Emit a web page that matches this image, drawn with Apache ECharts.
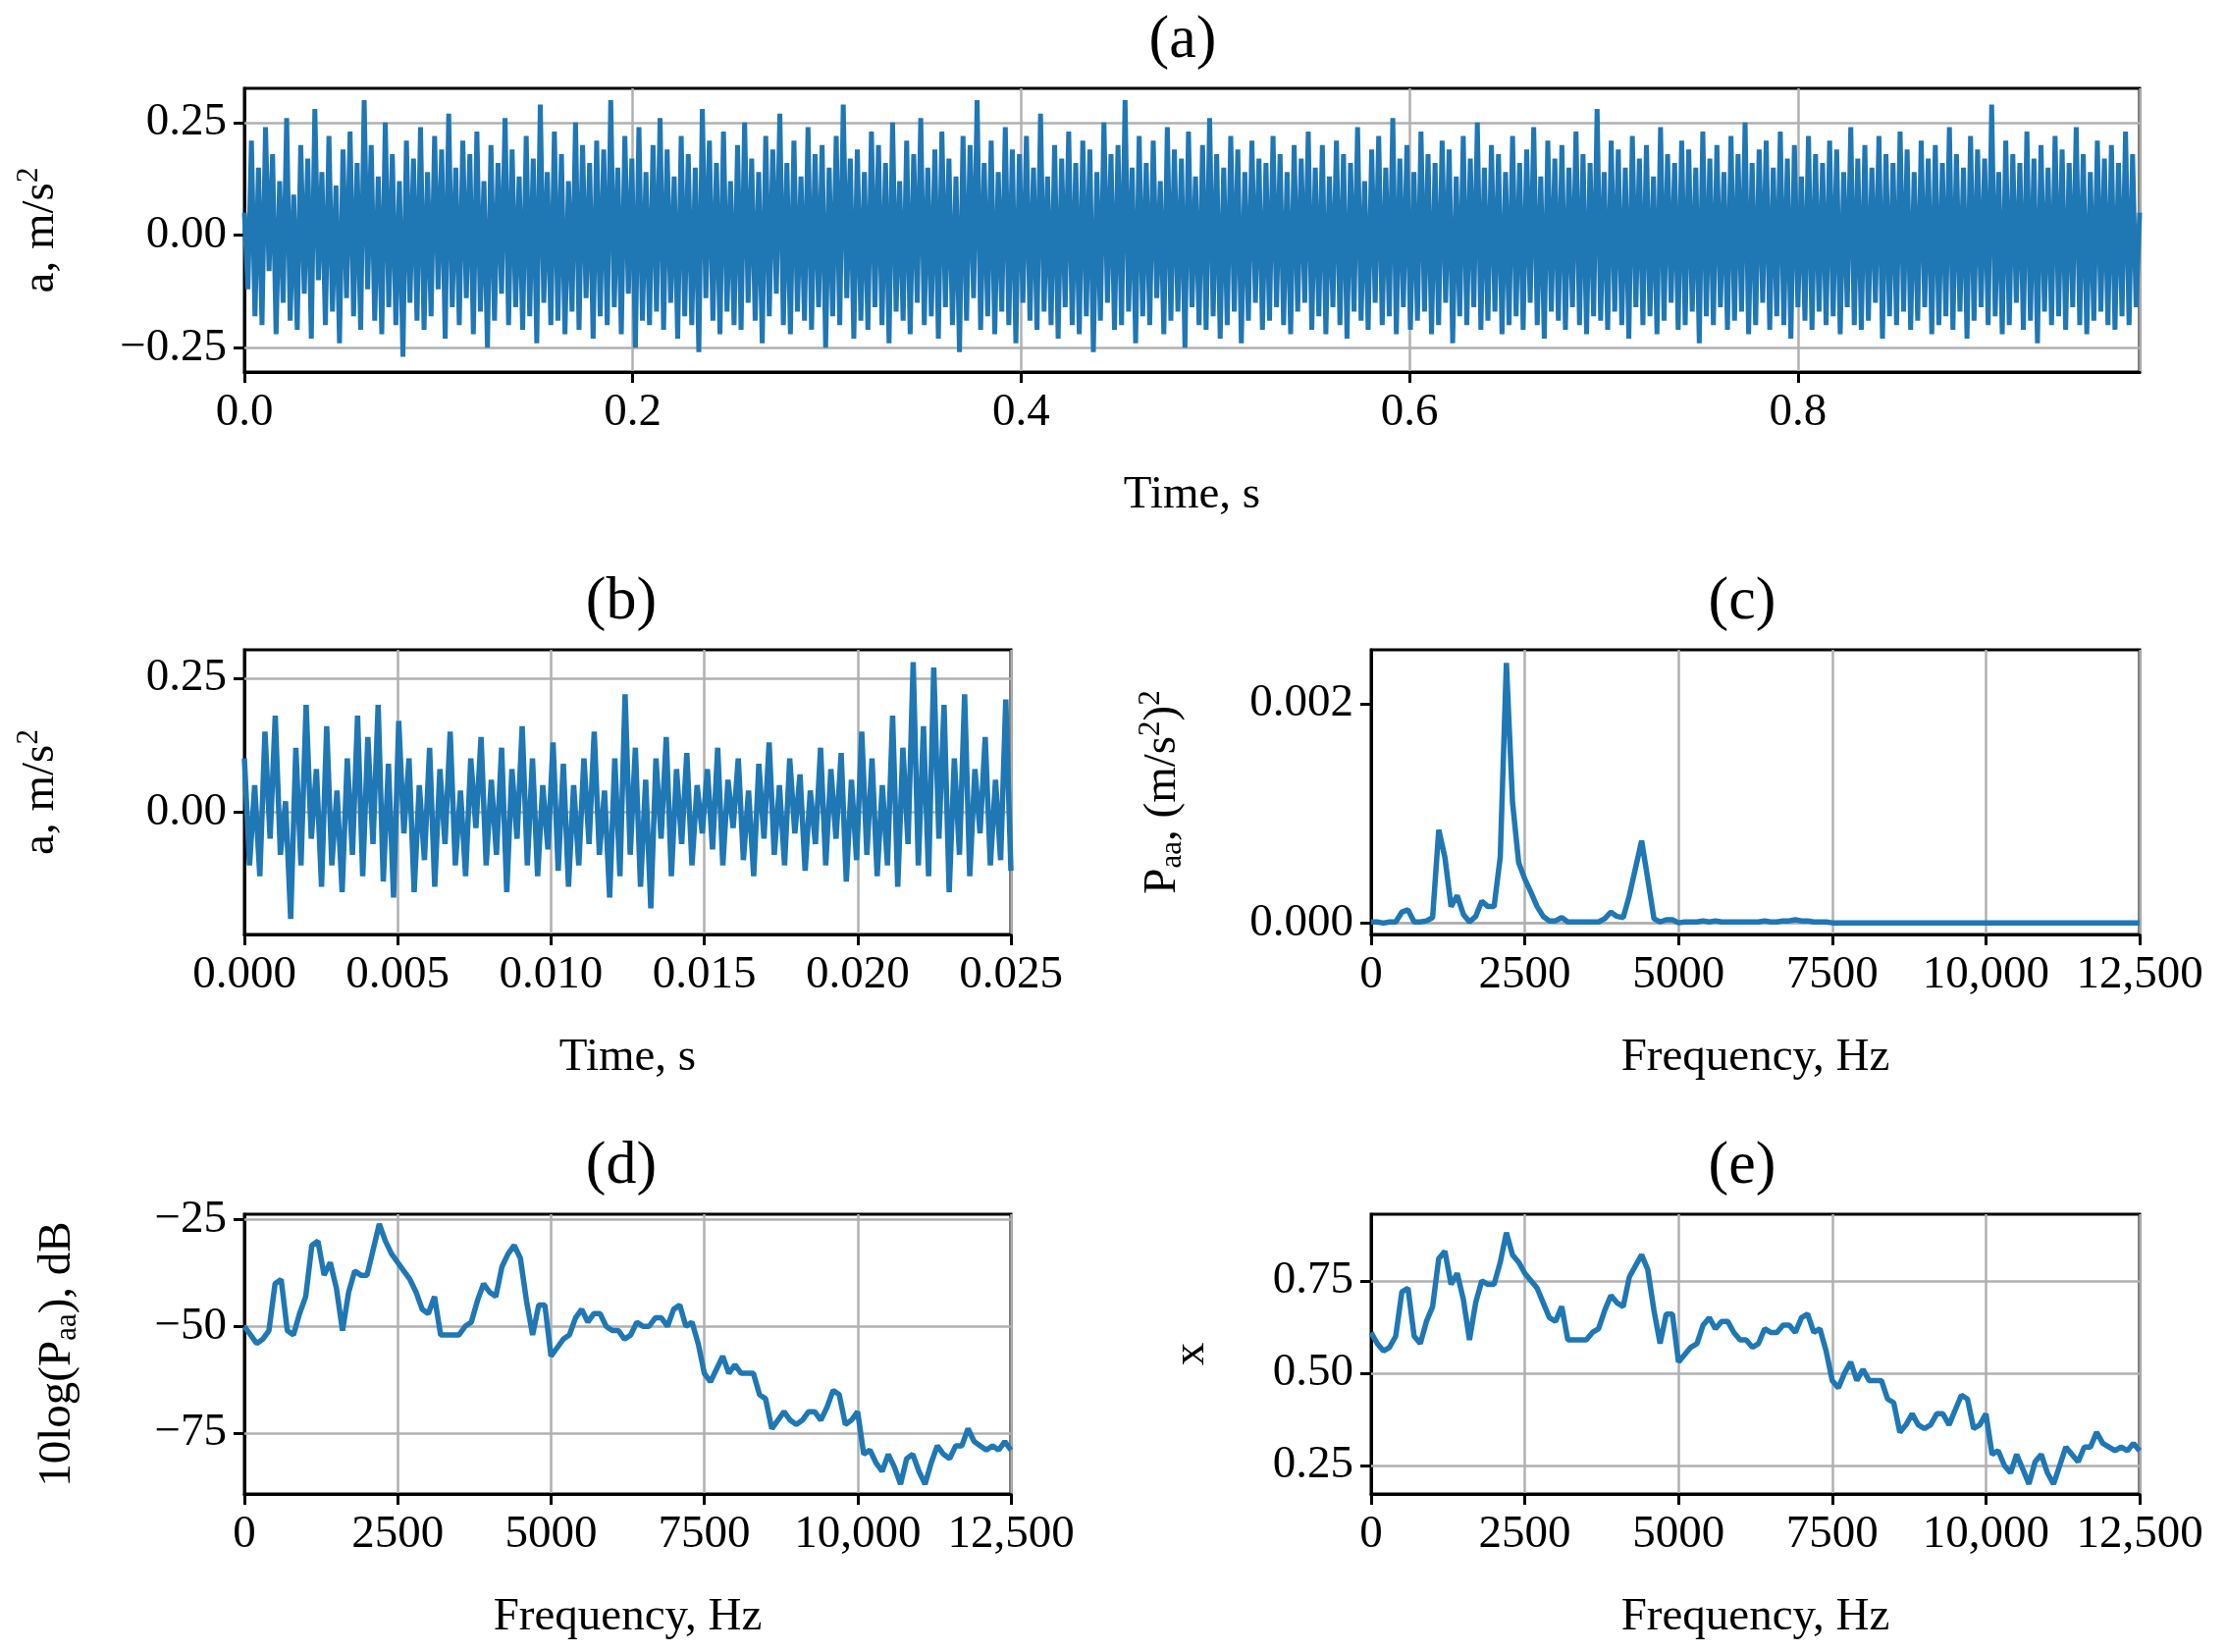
<!DOCTYPE html>
<html>
<head>
<meta charset="utf-8">
<script src="https://cdn.jsdelivr.net/npm/echarts@6/dist/echarts.min.js"></script>
<style>
  html, body { margin: 0; padding: 0; background: #fff; }
  #main { width: 2268px; height: 1683px; }
</style>
</head>
<body>
<div id="main"></div>
<script>
// (a) full record, a in m/s^2
var sigA = [0.05,-0.12,0.21,-0.18,0.15,-0.2,0.24,-0.08,0.18,-0.22,0.12,-0.15,0.26,-0.19,0.09,-0.21,0.2,-0.13,0.17,-0.23,0.28,-0.1,0.14,-0.2,0.22,-0.17,0.11,-0.24,0.19,-0.14,
  0.23,-0.18,0.16,-0.21,0.3,-0.12,0.2,-0.19,0.13,-0.22,0.25,-0.16,0.18,-0.2,0.12,-0.27,0.21,-0.15,0.17,-0.19,0.24,-0.21,0.14,-0.18,0.22,-0.12,0.19,-0.23,0.27,-0.16,
  0.15,-0.2,0.21,-0.14,0.18,-0.22,0.23,-0.17,0.12,-0.25,0.2,-0.19,0.16,-0.13,0.26,-0.2,0.19,-0.16,0.13,-0.21,0.22,-0.18,0.17,-0.24,0.29,-0.15,0.14,-0.2,0.23,-0.19,
  0.18,-0.22,0.12,-0.17,0.25,-0.21,0.2,-0.14,0.16,-0.23,0.21,-0.18,0.19,-0.2,0.3,-0.16,0.15,-0.22,0.22,-0.13,0.17,-0.25,0.24,-0.19,0.14,-0.2,0.2,-0.17,0.26,-0.21,
  0.19,-0.15,0.13,-0.23,0.22,-0.18,0.18,-0.2,0.15,-0.26,0.28,-0.14,0.21,-0.19,0.16,-0.22,0.23,-0.17,0.12,-0.2,0.2,-0.21,0.25,-0.15,0.17,-0.19,0.14,-0.24,0.22,-0.18,
  0.19,-0.13,0.27,-0.2,0.16,-0.22,0.21,-0.17,0.13,-0.19,0.24,-0.21,0.18,-0.16,0.2,-0.25,0.15,-0.18,0.22,-0.2,0.29,-0.14,0.17,-0.23,0.19,-0.19,0.14,-0.21,0.23,-0.16,
  0.2,-0.2,0.16,-0.24,0.25,-0.17,0.12,-0.19,0.21,-0.22,0.18,-0.15,0.26,-0.2,0.15,-0.18,0.19,-0.23,0.23,-0.16,0.17,-0.2,0.13,-0.26,0.22,-0.19,0.2,-0.14,0.3,-0.21,
  0.16,-0.18,0.21,-0.22,0.14,-0.17,0.24,-0.2,0.19,-0.24,0.18,-0.15,0.22,-0.19,0.15,-0.21,0.27,-0.17,0.13,-0.2,0.2,-0.23,0.17,-0.16,0.23,-0.2,0.16,-0.22,0.21,-0.18,
  0.19,-0.26,0.14,-0.19,0.25,-0.15,0.18,-0.21,0.2,-0.2,0.3,-0.17,0.15,-0.24,0.22,-0.18,0.16,-0.2,0.21,-0.14,0.12,-0.22,0.24,-0.19,0.19,-0.17,0.17,-0.25,0.23,-0.16,
  0.13,-0.2,0.2,-0.21,0.26,-0.18,0.18,-0.23,0.15,-0.2,0.22,-0.17,0.19,-0.24,0.14,-0.19,0.21,-0.15,0.17,-0.21,0.16,-0.19,0.22,-0.16,0.18,-0.2,0.14,-0.22,0.2,-0.17,
  0.17,-0.15,0.23,-0.21,0.15,-0.18,0.2,-0.22,0.13,-0.16,0.21,-0.2,0.18,-0.23,0.16,-0.17,0.24,-0.19,0.12,-0.21,0.19,-0.15,0.22,-0.2,0.15,-0.18,0.26,-0.22,0.17,-0.16,
  0.2,-0.21,0.14,-0.19,0.23,-0.17,0.18,-0.22,0.16,-0.2,0.21,-0.15,0.19,-0.24,0.13,-0.18,0.22,-0.2,0.17,-0.16,0.25,-0.21,0.15,-0.19,0.2,-0.17,0.18,-0.22,0.14,-0.2,
  0.22,-0.18,0.16,-0.21,0.19,-0.15,0.24,-0.2,0.13,-0.23,0.21,-0.17,0.17,-0.19,0.2,-0.21,0.15,-0.16,0.23,-0.2,0.18,-0.22,0.16,-0.18,0.28,-0.19,0.14,-0.21,0.21,-0.17,
  0.19,-0.2,0.15,-0.23,0.22,-0.16,0.17,-0.2,0.2,-0.18,0.13,-0.22,0.24,-0.19,0.18,-0.15,0.16,-0.21,0.21,-0.2,0.19,-0.17,0.15,-0.24,0.23,-0.18,0.17,-0.2,0.2,-0.16,
  0.14,-0.21,0.22,-0.19,0.18,-0.17,0.25,-0.22,0.16,-0.2,0.19,-0.15,0.21,-0.21,0.15,-0.18,0.23,-0.2,0.17,-0.23,0.2,-0.16,0.13,-0.19,0.22,-0.21,0.18,-0.17,0.16,-0.2,
  0.21,-0.18,0.19,-0.22,0.14,-0.16,0.24,-0.2,0.17,-0.21,0.2,-0.19,0.15,-0.15,0.22,-0.23,0.18,-0.18,0.16,-0.2,0.23,-0.17,0.19,-0.21,0.14,-0.19,0.21,-0.16,0.17,-0.22,
  0.2,-0.2,0.16,-0.18,0.24,-0.21,0.18,-0.17,0.15,-0.23,0.22,-0.19,0.19,-0.16,0.17,-0.2,0.29,-0.18,0.14,-0.22,0.21,-0.2,0.18,-0.15,0.16,-0.21,0.23,-0.19,0.17,-0.24,
  0.2,-0.17,0.15,-0.2,0.22,-0.18,0.19,-0.21,0.16,-0.16,0.24,-0.2,0.18,-0.22,0.14,-0.19,0.21,-0.17,0.17,-0.2,0.2,-0.21,0.16,-0.18,0.23,-0.2,0.18,-0.16,0.05];
// (b) first 0.025 s
var sigB = [0.1,-0.1,0.05,-0.12,0.15,-0.05,0.18,-0.08,0.02,-0.2,0.12,-0.1,0.2,-0.05,0.08,-0.14,0.16,-0.1,0.04,-0.15,0.1,-0.08,0.18,-0.12,0.14,-0.06,0.2,-0.13,0.09,-0.16,
  0.17,-0.04,0.1,-0.15,0.05,-0.09,0.12,-0.14,0.08,-0.06,0.15,-0.1,0.04,-0.12,0.1,-0.03,0.14,-0.1,0.06,-0.08,0.12,-0.15,0.08,-0.05,0.16,-0.1,0.1,-0.12,0.05,-0.07,
  0.13,-0.11,0.09,-0.14,0.05,-0.1,0.1,-0.06,0.15,-0.08,0.04,-0.16,0.1,-0.12,0.22,-0.08,0.12,-0.14,0.06,-0.18,0.1,-0.05,0.14,-0.12,0.08,-0.06,0.11,-0.1,0.05,-0.04,
  0.08,-0.07,0.12,-0.1,0.06,-0.03,0.1,-0.09,0.04,-0.12,0.09,-0.05,0.13,-0.08,0.05,-0.1,0.1,-0.04,0.07,-0.11,0.04,-0.06,0.12,-0.1,0.08,-0.05,0.11,-0.13,0.06,-0.09,
  0.15,-0.08,0.1,-0.12,0.05,-0.1,0.18,-0.14,0.12,-0.06,0.28,-0.1,0.16,-0.12,0.27,-0.05,0.2,-0.15,0.1,-0.08,0.22,-0.12,0.08,-0.04,0.14,-0.1,0.06,-0.09,0.21,-0.11];
// (c) PSD, (m/s^2)^2, 100 Hz steps from 0 Hz
var psdC = [0.00001,0.00001,0,0.00001,0.00001,0.0001,0.00012,0.00001,0.00001,0.00002,
  0.00005,0.00085,0.0006,0.00015,0.00025,0.00008,0.00001,0.00006,0.0002,0.00015,
  0.00015,0.0006,0.00237,0.0011,0.00055,0.0004,0.00028,0.00015,0.00006,0.00002,
  0.00002,0.00005,0.00001,0.00001,0.00001,0.00001,0.00001,0.00001,0.00004,0.0001,
  0.00006,0.00005,0.00025,0.0005,0.00075,0.0004,0.00004,0.00001,0.00003,0.00003,
  0.000002,0.00001,0.00001,0.00001,0.00002,0.00001,0.00002,0.00001,0.00001,0.00001,
  0.00001,0.00001,0.00001,0.00001,0.00002,0.00001,0.00001,0.00002,0.00002,0.00003,
  0.00002,0.00002,0.00001,0.00001,0.00001,0.000002,0.000002,0.000002,0.000002,0.000002,
  0,0,0,0,0,0,0,0,0,0,0,0,0,0,0,0,0,0,0,0,0,0,0,0,0,0,0,0,0,0,0,0,0,0,0,0,0,0,0,0,0,0,0,0,0,0];
// (d) 10log(Paa), dB
var psdD = [-50,-52,-54,-53,-51,-40,-39,-51,-52,-47,
  -43,-31,-30,-38,-35,-41,-51,-42,-37,-38,
  -38,-32,-26,-30,-33,-35,-37,-39,-42,-46,
  -47,-43,-52,-52,-52,-52,-50,-49,-44,-40,
  -42,-43,-36,-33,-31,-34,-44,-52,-45,-45,
  -57,-55,-53,-52,-48,-46,-49,-47,-47,-50,
  -51,-51,-53,-52,-49,-50,-50,-48,-48,-50,
  -46,-45,-50,-49,-54,-61,-63,-60,-57,-61,
  -59,-61,-61,-61,-66,-67,-74,-72,-70,-72,
  -73,-72,-70,-70,-72,-69,-65,-66,-73,-72,
  -70,-80,-79,-82,-84,-80,-83,-87,-81,-80,
  -84,-87,-82,-78,-80,-81,-78,-78,-74,-77,
  -78,-79,-78,-79,-77,-79];
// (e) x
var valE = [0.61,0.58,0.56,0.57,0.6,0.72,0.73,0.6,0.58,0.64,
  0.68,0.81,0.83,0.74,0.77,0.7,0.59,0.69,0.75,0.74,
  0.74,0.8,0.88,0.82,0.8,0.77,0.75,0.73,0.69,0.65,
  0.64,0.68,0.59,0.59,0.59,0.59,0.61,0.62,0.67,0.71,
  0.69,0.68,0.76,0.79,0.82,0.78,0.67,0.58,0.66,0.66,
  0.53,0.55,0.57,0.58,0.63,0.65,0.62,0.64,0.64,0.61,
  0.59,0.59,0.57,0.58,0.62,0.61,0.61,0.63,0.63,0.61,
  0.65,0.66,0.61,0.62,0.56,0.48,0.46,0.5,0.53,0.48,
  0.51,0.48,0.48,0.48,0.43,0.42,0.34,0.36,0.39,0.36,
  0.35,0.36,0.39,0.39,0.36,0.4,0.44,0.43,0.35,0.36,
  0.39,0.28,0.29,0.25,0.23,0.28,0.24,0.2,0.26,0.28,
  0.23,0.2,0.25,0.3,0.28,0.26,0.3,0.3,0.34,0.31,
  0.3,0.29,0.3,0.29,0.31,0.29];

var durA = 0.976, durB = 0.025, dF = 100;

function pairs(arr, step) {
  return arr.map(function (v, i) { return [i * step, v]; });
}

var FONT = 'Liberation Serif';
var BLUE = '#1f77b4';
var FS = 47;
var rich = {
  n: { fontFamily: FONT, fontSize: FS, color: '#000' },
  sup: { fontFamily: FONT, fontSize: 31, color: '#000', verticalAlign: 'top', padding: [0, 0, 24, 0] },
  sub: { fontFamily: FONT, fontSize: 31, color: '#000', padding: [20, 0, 0, 0] }
};

var grids = [
  { left: 249, top: 90, width: 1931, height: 289 },
  { left: 249, top: 662, width: 781, height: 290 },
  { left: 1397, top: 662, width: 783, height: 290 },
  { left: 249, top: 1237, width: 781, height: 285 },
  { left: 1397, top: 1237, width: 783, height: 285 }
];
grids.forEach(function (g) { g.show = true; g.borderColor = '#000'; g.borderWidth = 3; g.backgroundColor = 'transparent'; });

function freqFmt(v) { return v >= 10000 ? v.toLocaleString('en-US') : String(v); }

function xAxis(idx, min, max, interval, fmt, name) {
  return {
    type: 'value', gridIndex: idx, min: min, max: max, interval: interval,
    name: name, nameLocation: 'middle', nameGap: 102,
    nameTextStyle: { fontFamily: FONT, fontSize: FS, color: '#000' },
    axisLine: { show: true, onZero: false, lineStyle: { color: '#000', width: 3 } },
    axisTick: { show: true, length: 11, lineStyle: { color: '#000', width: 3 } },
    axisLabel: { show: true, showMaxLabel: max % interval < 1e-9 || Math.abs(max % interval - interval) < 1e-9, margin: 18, fontFamily: FONT, fontSize: FS, color: '#000', formatter: fmt },
    splitLine: { show: true, lineStyle: { color: '#b0b0b0', width: 2.5 } }
  };
}
function yAxis(idx, min, max, ticks, fmt, name, gap) {
  return {
    type: 'value', gridIndex: idx, min: min, max: max,
    name: name, nameLocation: 'middle', nameGap: gap, nameRotate: 90,
    nameTextStyle: { rich: rich },
    axisLine: { show: true, onZero: false, lineStyle: { color: '#000', width: 3 } },
    axisTick: { show: true, length: 11, customValues: ticks, lineStyle: { color: '#000', width: 3 } },
    axisLabel: { show: true, customValues: ticks, margin: 18, fontFamily: FONT, fontSize: FS, color: '#000', formatter: fmt },
    splitLine: { show: false }
  };
}
function gridLines(ticks) {
  return {
    silent: true, symbol: 'none', label: { show: false },
    lineStyle: { color: '#b0b0b0', width: 2.5, type: 'solid' },
    data: ticks.map(function (t) { return { yAxis: t }; })
  };
}
function line(idx, data, ticks, w) {
  return {
    type: 'line', xAxisIndex: idx, yAxisIndex: idx, data: data, showSymbol: false,
    lineStyle: { color: BLUE, width: w }, itemStyle: { color: BLUE }, animation: false,
    markLine: Object.assign(gridLines(ticks), { z: 1 }), z: 3
  };
}

var tA = [-0.25, 0, 0.25], tB = [0, 0.25], tC = [0, 0.002], tD = [-75, -50, -25], tE = [0.25, 0.5, 0.75];
function f2(v) { return v.toFixed(2).replace('-', '\u2212'); }
function f3(v) { return v.toFixed(3); }
function fi(v) { return String(v).replace('-', '\u2212'); }

var titleTxt = { fontFamily: FONT, fontSize: 62, fontWeight: 'normal', color: '#000' };
var option = {
  backgroundColor: '#fff',
  animation: false,
  title: [
    { text: '(a)', left: 1200, top: 6, textAlign: 'center', textStyle: titleTxt },
    { text: '(b)', left: 628, top: 578, textAlign: 'center', textStyle: titleTxt },
    { text: '(c)', left: 1770, top: 578, textAlign: 'center', textStyle: titleTxt },
    { text: '(d)', left: 628, top: 1153, textAlign: 'center', textStyle: titleTxt },
    { text: '(e)', left: 1770, top: 1153, textAlign: 'center', textStyle: titleTxt }
  ],
  grid: grids,
  xAxis: [
    xAxis(0, 0, durA, 0.2, function (v) { return v.toFixed(1); }, 'Time, s'),
    xAxis(1, 0, durB, 0.005, f3, 'Time, s'),
    xAxis(2, 0, 12500, 2500, freqFmt, 'Frequency, Hz'),
    xAxis(3, 0, 12500, 2500, freqFmt, 'Frequency, Hz'),
    xAxis(4, 0, 12500, 2500, freqFmt, 'Frequency, Hz')
  ],
  yAxis: [
    yAxis(0, -0.304, 0.326, tA, f2, '{n|a, m/s}{sup|2}', 180),
    yAxis(1, -0.229, 0.303, tB, f2, '{n|a, m/s}{sup|2}', 180),
    yAxis(2, -0.000104, 0.00249, tC, f3, '{n|P}{sub|aa}{n|, (m/s}{sup|2}{n|)}{sup|2}', 185),
    yAxis(3, -89.3, -23.7, tD, fi, '{n|10log(P}{sub|aa}{n|), dB}', 165),
    yAxis(4, 0.173, 0.93, tE, f2, '{n|x}', 160)
  ],
  series: [
    line(0, pairs(sigA, durA / (sigA.length - 1)), tA, 5),
    line(1, pairs(sigB, durB / (sigB.length - 1)), tB, 5.5),
    line(2, pairs(psdC, dF), tC, 5.5),
    line(3, pairs(psdD, dF), tD, 5.5),
    line(4, pairs(valE, dF), tE, 5.5)
  ]
};

echarts.init(document.getElementById('main')).setOption(option);
</script>
</body>
</html>
